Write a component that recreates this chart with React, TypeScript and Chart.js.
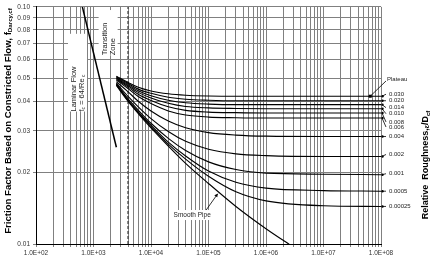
import React, { useEffect, useRef } from 'react';
import { Chart, registerables } from 'chart.js';

Chart.register(...registerables);

// Reynolds numbers (constricted flow) at which the rough-pipe curves are tabulated
const reynolds = [2500, 4000, 6000, 1e4, 2e4, 4e4, 1e5, 3e5, 1e6, 1e7, 1e8];

// Relative roughness of each curve, top to bottom
const roughnessLabels = ['0.030', '0.020', '0.014', '0.010', '0.008', '0.006', '0.004', '0.002', '0.001', '0.0005', '0.00025'];

// Friction factor f_Darcy,cf for each roughness, one value per Reynolds number above
const f0030 = [0.0510, 0.0480, 0.0458, 0.0442, 0.0430, 0.0424, 0.0421, 0.0420, 0.0420, 0.0420, 0.0420];
const f0020 = [0.0507, 0.0475, 0.0450, 0.0432, 0.0416, 0.0408, 0.0404, 0.0402, 0.0402, 0.0402, 0.0402];
const f0014 = [0.0504, 0.0470, 0.0443, 0.0422, 0.0404, 0.0394, 0.0389, 0.0387, 0.0387, 0.0387, 0.0387];
const f0010 = [0.0500, 0.0465, 0.0436, 0.0413, 0.0392, 0.0380, 0.0375, 0.0373, 0.0372, 0.0372, 0.0372];
const f0008 = [0.0496, 0.0459, 0.0428, 0.0403, 0.0379, 0.0366, 0.0360, 0.0358, 0.0357, 0.0357, 0.0357];
const f0006 = [0.0492, 0.0452, 0.0419, 0.0391, 0.0364, 0.0350, 0.0343, 0.0341, 0.0340, 0.0340, 0.0340];
const f0004 = [0.0484, 0.0438, 0.0400, 0.0364, 0.0330, 0.0309, 0.0295, 0.0288, 0.0285, 0.0284, 0.0284];
const f0002 = [0.0478, 0.0419, 0.0379, 0.0338, 0.0298, 0.0271, 0.0251, 0.0240, 0.0236, 0.0234, 0.0234];
const f0001 = [0.0474, 0.0409, 0.0367, 0.0323, 0.0279, 0.0248, 0.0222, 0.0206, 0.0199, 0.0197, 0.0196];
const f00005 = [0.0471, 0.0404, 0.0361, 0.0317, 0.0269, 0.0235, 0.0203, 0.0182, 0.0172, 0.0168, 0.0167];
const f000025 = [0.0469, 0.0402, 0.0358, 0.0313, 0.0264, 0.0228, 0.0193, 0.0166, 0.0152, 0.0145, 0.0144];

const roughnessCurves = [f0030, f0020, f0014, f0010, f0008, f0006, f0004, f0002, f0001, f00005, f000025];

// Smooth pipe curve
const smoothRe = [2500, 4000, 6000, 1e4, 2e4, 4e4, 1e5, 3e5, 1e6, 3e6];
const smoothF = [0.0466, 0.0399, 0.0355, 0.0309, 0.0259, 0.0219, 0.0180, 0.0144, 0.0116, 0.0097];

// Laminar flow, f = 64/Re
const laminarRe = [640, 2500];
const laminarF = [0.1, 0.0256];

// Start of fully turbulent flow
const transitionRe = 4000;

// Axis tick labels
const xTickLabels = ['1.0E+02', '1.0E+03', '1.0E+04', '1.0E+05', '1.0E+06', '1.0E+07', '1.0E+08'];
const yTickLabels = ['0.01', '0.02', '0.03', '0.04', '0.05', '0.06', '0.07', '0.08', '0.09', '0.10'];

// Pixel nudges that keep the crowded roughness labels apart
const labelNudge = [-2, 0, 3, 5, 9, 9, 0, -2, -1, 0, 0];

const FONT = "'Liberation Sans', Arial, sans-serif";
const TEXT = '#222';

type Part = { t: string; size: number; bold?: boolean; dy?: number };

function drawParts(ctx: CanvasRenderingContext2D, parts: Part[], x: number, y: number, rotate: boolean, align: 'center' | 'left') {
  ctx.save();
  ctx.translate(x, y);
  if (rotate) ctx.rotate(-Math.PI / 2);
  ctx.textBaseline = 'middle';
  ctx.textAlign = 'left';
  const widths = parts.map(p => {
    ctx.font = `${p.bold ? 'bold ' : ''}${p.size}px ${FONT}`;
    return ctx.measureText(p.t).width;
  });
  const total = widths.reduce((a, b) => a + b, 0);
  let cx = align === 'center' ? -total / 2 : 0;
  parts.forEach((p, i) => {
    ctx.font = `${p.bold ? 'bold ' : ''}${p.size}px ${FONT}`;
    ctx.fillText(p.t, cx, p.dy || 0);
    cx += widths[i];
  });
  ctx.restore();
  return total;
}

function whiteBox(ctx: CanvasRenderingContext2D, x: number, y: number, w: number, h: number) {
  ctx.save();
  ctx.fillStyle = '#fff';
  ctx.fillRect(x, y, w, h);
  ctx.restore();
}

const annotations = {
  id: 'moodyAnnotations',
  afterDatasetsDraw(chart: any) {
    const { ctx, scales } = chart;
    const xs = scales.x;
    const ys = scales.y;
    const px = (re: number) => xs.getPixelForValue(re);
    const py = (f: number) => ys.getPixelForValue(f);
    ctx.save();
    ctx.fillStyle = TEXT;

    // Laminar flow label (two rotated lines)
    whiteBox(ctx, px(440) - 5, py(0.077), 19, py(0.0362) - py(0.077));
    ctx.fillStyle = TEXT;
    drawParts(ctx, [{ t: 'Laminar Flow', size: 7.5 }], px(450), py(0.0362), true, 'left');
    drawParts(ctx, [
      { t: 'f', size: 7.5 },
      { t: 'c', size: 5, dy: 2 },
      { t: ' = 64/Re', size: 7.5 },
      { t: ' c', size: 5, dy: 2 },
    ], px(630), py(0.0362), true, 'left');

    // Transition zone label
    whiteBox(ctx, px(1500) - 5, py(0.097), 19, py(0.0625) - py(0.097));
    ctx.fillStyle = TEXT;
    drawParts(ctx, [{ t: 'Transition', size: 7.5 }], px(1550), py(0.0625), true, 'left');
    drawParts(ctx, [{ t: 'Zone', size: 7.5 }], px(2150), py(0.0625), true, 'left');

    // Smooth pipe label with leader
    const spx = px(5.2e4), spy = py(0.01325);
    whiteBox(ctx, spx - 18, spy - 5, 36, 10);
    ctx.fillStyle = TEXT;
    drawParts(ctx, [{ t: 'Smooth Pipe', size: 6.5 }], spx, spy, false, 'center');
    ctx.strokeStyle = '#000';
    ctx.lineWidth = 0.8;
    const ax = px(1.45e5), ay = py(0.0163);
    ctx.beginPath();
    ctx.moveTo(spx + 14, spy - 5);
    ctx.lineTo(ax, ay);
    ctx.stroke();
    ctx.beginPath();
    ctx.moveTo(ax, ay);
    ctx.lineTo(ax - 3.5, ay + 1.5);
    ctx.lineTo(ax - 0.5, ay + 3.5);
    ctx.closePath();
    ctx.fillStyle = '#000';
    ctx.fill();

    // Plateau label with leader to the top curve
    const plx = px(6.5e7), ply = py(0.0420);
    ctx.fillRect(plx - 1.5, ply - 1.5, 3, 3);
    ctx.beginPath();
    ctx.moveTo(plx, ply);
    ctx.lineTo(xs.right + 5, py(0.0487));
    ctx.stroke();
    ctx.fillStyle = TEXT;
    drawParts(ctx, [{ t: 'Plateau', size: 6 }], xs.right + 6, py(0.0497), false, 'left');

    // Roughness labels at the right end of each curve
    roughnessCurves.forEach((vals, i) => {
      const yEnd = py(vals[vals.length - 1]);
      const yl = yEnd + labelNudge[i];
      ctx.strokeStyle = '#000';
      ctx.fillStyle = '#000';
      ctx.lineWidth = 0.8;
      ctx.beginPath();
      ctx.moveTo(xs.right + 5, yl);
      ctx.lineTo(xs.right + 1, yEnd);
      ctx.stroke();
      ctx.beginPath();
      ctx.arc(xs.right + 1.5, yEnd, 1.2, 0, Math.PI * 2);
      ctx.fill();
      ctx.fillStyle = TEXT;
      drawParts(ctx, [{ t: roughnessLabels[i], size: 6 }], xs.right + 8, yl, false, 'left');
    });

    // Axis titles
    ctx.fillStyle = '#000';
    drawParts(ctx, [
      { t: 'Friction Factor Based on Constricted Flow, f', size: 9.6, bold: true },
      { t: 'Darcy,cf', size: 6.2, bold: true, dy: 2 },
    ], 8, 121, true, 'center');
    drawParts(ctx, [
      { t: 'Relative  Roughness,', size: 9, bold: true },
      { t: 'ε', size: 6.5, bold: true, dy: 1.5 },
      { t: '/D', size: 9, bold: true },
      { t: 'cf', size: 6, bold: true, dy: 2 },
    ], 426, 165, true, 'center');
    ctx.restore();
  },
};

function decadeGrid(lo: number, hi: number) {
  const out: { value: number }[] = [];
  for (let e = lo; e < hi; e++) {
    for (let m = 1; m <= 9; m++) out.push({ value: m * Math.pow(10, e) });
  }
  out.push({ value: Math.pow(10, hi) });
  return out;
}

export default function App() {
  const ref = useRef<HTMLCanvasElement>(null);
  useEffect(() => {
    const canvas = ref.current;
    if (!canvas) return;
    const decades = xTickLabels.map(s => parseFloat(s));
    const yTicks = yTickLabels.map(s => parseFloat(s));
    const datasets: any[] = roughnessCurves.map((vals, i) => ({
      label: roughnessLabels[i],
      data: reynolds.map((re, j) => ({ x: re, y: vals[j] })),
      borderColor: '#000',
      borderWidth: 1.1,
      pointRadius: 0,
      cubicInterpolationMode: 'monotone',
    }));
    datasets.push({
      label: 'Smooth Pipe',
      data: smoothRe.map((re, j) => ({ x: re, y: smoothF[j] })),
      borderColor: '#000',
      borderWidth: 1.1,
      pointRadius: 0,
      cubicInterpolationMode: 'monotone',
    });
    datasets.push({
      label: 'Laminar',
      data: laminarRe.map((re, j) => ({ x: re, y: laminarF[j] })),
      borderColor: '#000',
      borderWidth: 1.5,
      pointRadius: 0,
    });
    datasets.push({
      label: 'Transition',
      data: [{ x: transitionRe, y: 0.01 }, { x: transitionRe, y: 0.1 }],
      borderColor: '#555',
      borderWidth: 1.6,
      borderDash: [3, 2],
      pointRadius: 0,
    });

    const chart = new Chart(canvas, {
      type: 'line',
      data: { datasets },
      plugins: [annotations],
      options: {
        animation: false,
        responsive: false,
        maintainAspectRatio: false,
        layout: { padding: { left: 0, top: 5, right: 50, bottom: 0 } },
        plugins: { legend: { display: false }, tooltip: { enabled: false } },
        scales: {
          x: {
            type: 'logarithmic',
            min: 100,
            max: 1e8,
            afterBuildTicks: (s: any) => { s.ticks = decadeGrid(2, 8); },
            afterFit: (s: any) => { s.height = 17; },
            ticks: {
              autoSkip: false,
              maxRotation: 0,
              padding: 2,
              font: { family: FONT, size: 6.5 },
              color: '#333',
              callback: (v: any) => {
                const i = decades.findIndex(d => Math.abs(d - v) / d < 1e-6);
                return i >= 0 ? xTickLabels[i] : '';
              },
            },
            grid: { color: '#808080', lineWidth: 1, tickLength: 3 },
            border: { color: '#000', width: 1 },
          },
          y: {
            type: 'logarithmic',
            min: 0.01,
            max: 0.1,
            afterBuildTicks: (s: any) => { s.ticks = yTicks.map(v => ({ value: v })); },
            afterFit: (s: any) => { s.width = 36; },
            ticks: {
              autoSkip: false,
              padding: 3,
              font: { family: FONT, size: 6.5 },
              color: '#333',
              callback: (v: any) => {
                const i = yTicks.findIndex(d => Math.abs(d - v) / d < 1e-6);
                return i >= 0 ? yTickLabels[i] : '';
              },
            },
            grid: { color: '#808080', lineWidth: 1, tickLength: 3 },
            border: { color: '#000', width: 1 },
          },
        },
      },
    });
    return () => chart.destroy();
  }, []);

  return (
    <div style={{ position: 'fixed', left: 0, top: 0, width: 431, height: 261, background: '#fff' }}>
      <canvas ref={ref} width={431} height={261} style={{ width: 431, height: 261, display: 'block' }} />
    </div>
  );
}
